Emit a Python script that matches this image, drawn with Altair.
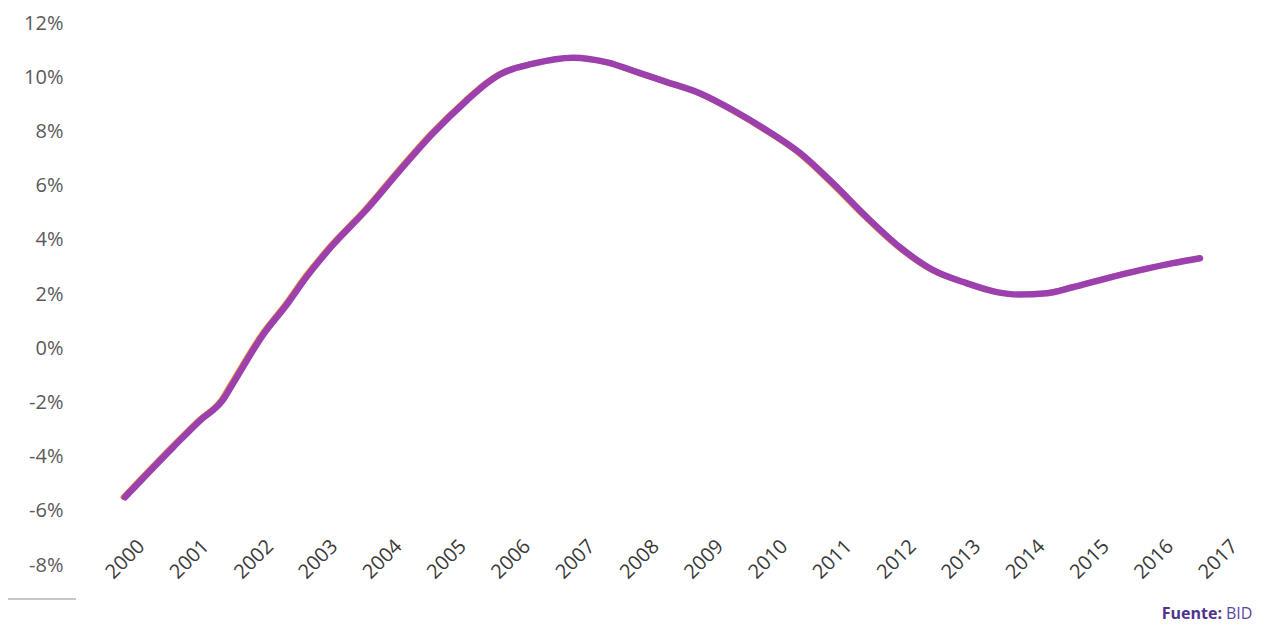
import altair as alt
import pandas as pd

years = [2000.00, 2000.75, 2001.17, 2001.52, 2001.68, 2002.15, 2002.52, 2002.83,
         2003.23, 2003.76, 2004.28, 2004.79, 2005.32, 2005.63, 2005.83, 2006.35,
         2006.97, 2007.50, 2008.01, 2008.43, 2008.94, 2009.46, 2009.98, 2010.50,
         2011.01, 2011.54, 2012.05, 2012.57, 2013.09, 2013.56, 2013.90, 2014.34,
         2014.74, 2015.27, 2015.79, 2016.30, 2016.72]
values_pct = [-5.50, -3.65, -2.66, -1.92, -1.30, 0.50, 1.62, 2.65,
              3.80, 5.12, 6.57, 7.93, 9.15, 9.78, 10.10, 10.50,
              10.72, 10.55, 10.15, 9.82, 9.41, 8.78, 8.04, 7.20,
              6.09, 4.83, 3.73, 2.88, 2.40, 2.07, 1.98, 2.03,
              2.25, 2.58, 2.88, 3.14, 3.32]
tick_years = list(range(2000, 2018))
y_ticks = [-0.08, -0.06, -0.04, -0.02, 0.0, 0.02, 0.04, 0.06, 0.08, 0.10, 0.12]

df = pd.DataFrame({"t": years, "v": [p / 100 for p in values_pct]})

FONT = "Open Sans"

x_enc = alt.X("t:Q", scale=alt.Scale(domain=[2000, 2017], nice=False, zero=False),
              axis=alt.Axis(values=tick_years, format="d", labelAngle=-45,
                            labelAlign="center", labelBaseline="middle",
                            labelPadding=-6, ticks=False, domain=False, grid=False,
                            labelFontSize=20, labelColor="#3a3a3a", labelFont=FONT,
                            labelOverlap=False, labelBound=False, labelFlush=False,
                            title=None))
y_enc = alt.Y("v:Q", scale=alt.Scale(domain=[-0.08, 0.12], nice=False, zero=False),
              axis=alt.Axis(values=y_ticks, format=".0%", ticks=False, domain=False,
                            labelExpr="replace(datum.label, '\u2212', '-')",
                            grid=False, labelPadding=62, labelFontSize=20,
                            labelColor="#5a5a5a", labelFont=FONT, title=None))

base = alt.Chart(df)
orange = base.mark_line(color="#E8863C", strokeWidth=5, interpolate="monotone",
                        xOffset=-2, strokeCap="round").encode(x=x_enc, y=y_enc)
purple = base.mark_line(color="#9C40AE", strokeWidth=6.5, interpolate="monotone",
                        strokeCap="round").encode(x=x_enc, y=y_enc)

src1 = alt.Chart(pd.DataFrame({"s": ["Fuente:"]})).mark_text(
    font=FONT, fontSize=16, fontWeight="bold", color="#4E3390", align="right",
    baseline="middle").encode(text="s:N", x=alt.value(1097), y=alt.value(591))
src2 = alt.Chart(pd.DataFrame({"s": ["BID"]})).mark_text(
    font=FONT, fontSize=16, color="#5A48A0", align="left",
    baseline="middle").encode(text="s:N", x=alt.value(1101), y=alt.value(591))
rule = alt.Chart(pd.DataFrame({"a": [0]})).mark_rule(color="#c8c8c8", strokeWidth=2).encode(
    x=alt.value(-125), x2=alt.value(-49), y=alt.value(576))

chart = alt.layer(orange, purple, src1, src2, rule).properties(
    width=1093, height=542,
    padding={"left": 117, "top": 15, "right": 52, "bottom": 61},
    autosize=alt.AutoSizeParams(type="none"),
    background="white",
).configure_view(stroke=None)

chart.save("out.html", embed_options={"renderer": "svg", "actions": False})
